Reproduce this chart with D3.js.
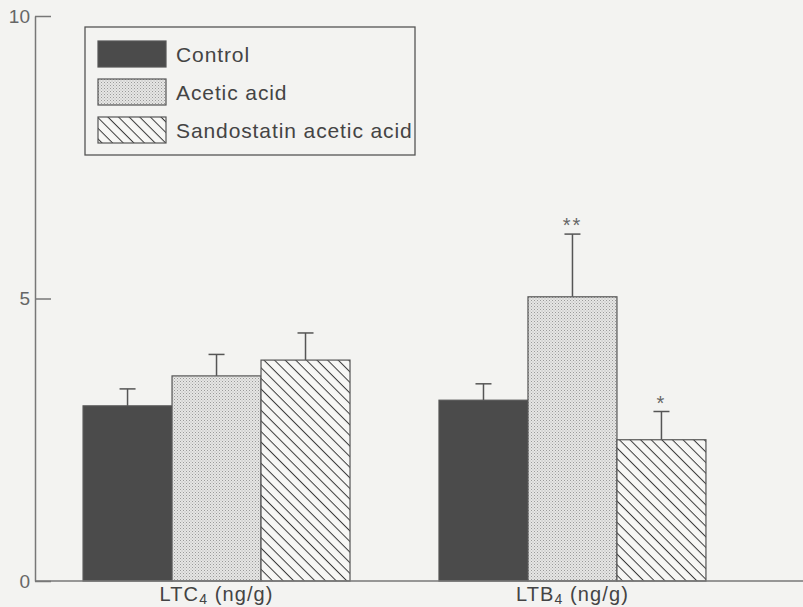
<!DOCTYPE html>
<html>
<head>
<meta charset="utf-8">
<script src="https://cdn.jsdelivr.net/npm/d3@7"></script>
<style>
  body { margin: 0; background: #f3f3f1; }
  svg { display: block; font-family: "Liberation Sans", Arial, sans-serif; }
</style>
</head>
<body>
<svg width="803" height="607"></svg>
<script>
// data
var groups = ["LTC", "LTB"];
var groupLabels = ["LTC", "LTB"];
var series = ["Control", "Acetic acid", "Sandostatin acetic acid"];
var ltcMeans = [3.10, 3.63, 3.91];
var ltcErr = [0.30, 0.38, 0.48];
var ltbMeans = [3.20, 5.03, 2.50];
var ltbErr = [0.29, 1.11, 0.50];
var ltcStars = ["", "", ""];
var ltbStars = ["", "**", "*"];
var yTicks = [0, 5, 10];

var rows = [];
groups.forEach(function(g, gi) {
    var m = gi === 0 ? ltcMeans : ltbMeans;
    var e = gi === 0 ? ltcErr : ltbErr;
    var s = gi === 0 ? ltcStars : ltbStars;
    series.forEach(function(k, i) {
        rows.push({group: g, key: k, idx: i, value: m[i], err: e[i], star: s[i]});
    });
});

var svg = d3.select('svg');

// patterns
var defs = svg.append('defs');
var dots = defs.append('pattern')
    .attr('id', 'dots').attr('patternUnits', 'userSpaceOnUse')
    .attr('width', 3).attr('height', 3);
dots.append('rect').attr('width', 3).attr('height', 3).attr('fill', '#e6e6e4');
dots.append('rect').attr('x', 0).attr('y', 0).attr('width', 1).attr('height', 1).attr('fill', '#9a9a9a');
dots.append('rect').attr('x', 1.5).attr('y', 1.5).attr('width', 1).attr('height', 1).attr('fill', '#b0b0b0');

// diagonal lines going down to the right
var hatch = defs.append('pattern')
    .attr('id', 'hatch').attr('patternUnits', 'userSpaceOnUse')
    .attr('width', 7.5).attr('height', 7.5)
    .attr('patternTransform', 'rotate(45)');
hatch.append('rect').attr('width', 7.5).attr('height', 7.5).attr('fill', '#f7f7f5');
hatch.append('line').attr('x1', 0).attr('y1', 0).attr('x2', 7.5).attr('y2', 0)
    .attr('stroke', '#3a3a3a').attr('stroke-width', 2);

var fills = ['#4b4b4b', 'url(#dots)', 'url(#hatch)'];

// scales
var yScale = d3.scaleLinear().domain([0, 10]).range([581, 16]);
var x0 = d3.scaleBand().domain(groups).range([35, 754])
    .paddingInner(0.25).paddingOuter(0.135);
var x1 = d3.scaleBand().domain(series).range([0, x0.bandwidth()]);

// bars
var bars = svg.append('g').selectAll('g')
    .data(rows).enter().append('g');

bars.append('line')
    .attr('x1', d => x0(d.group) + x1(d.key) + x1.bandwidth() / 2)
    .attr('x2', d => x0(d.group) + x1(d.key) + x1.bandwidth() / 2)
    .attr('y1', d => yScale(d.value))
    .attr('y2', d => yScale(d.value + d.err))
    .attr('stroke', '#555').attr('stroke-width', 1.5);
bars.append('line')
    .attr('x1', d => x0(d.group) + x1(d.key) + x1.bandwidth() / 2 - 8)
    .attr('x2', d => x0(d.group) + x1(d.key) + x1.bandwidth() / 2 + 8)
    .attr('y1', d => yScale(d.value + d.err))
    .attr('y2', d => yScale(d.value + d.err))
    .attr('stroke', '#555').attr('stroke-width', 1.5);

bars.append('rect')
    .attr('x', d => x0(d.group) + x1(d.key))
    .attr('y', d => yScale(d.value))
    .attr('width', x1.bandwidth())
    .attr('height', d => yScale(0) - yScale(d.value))
    .attr('fill', d => fills[d.idx])
    .attr('stroke', '#555').attr('stroke-width', 1.2);

bars.append('text')
    .text(d => d.star)
    .attr('x', d => x0(d.group) + x1(d.key) + x1.bandwidth() / 2)
    .attr('y', d => yScale(d.value + d.err) - 2)
    .attr('text-anchor', 'middle')
    .attr('font-size', 20).attr('letter-spacing', 2)
    .attr('fill', '#666');

// axes
var yAxis = d3.axisLeft(yScale).tickValues(yTicks).tickSize(-16).tickPadding(5).tickSizeOuter(0);
var yAxisGroup = svg.append('g').attr('transform', 'translate(35,0)').call(yAxis);
yAxisGroup.select('.domain').attr('stroke', '#777').attr('stroke-width', 1.5);
yAxisGroup.selectAll('.tick line').attr('stroke', '#777').attr('stroke-width', 1.5);
yAxisGroup.selectAll('.tick text').attr('font-size', 19).attr('fill', '#666')
    .attr('font-family', '"Liberation Sans", Arial, sans-serif');

svg.append('line')
    .attr('x1', 35).attr('x2', 803)
    .attr('y1', yScale(0)).attr('y2', yScale(0))
    .attr('stroke', '#777').attr('stroke-width', 1.5);

// group labels with subscript
var lab = svg.append('g').selectAll('text')
    .data(groups).enter().append('text')
    .attr('x', d => x0(d) + x0.bandwidth() / 2)
    .attr('y', 601)
    .attr('text-anchor', 'middle')
    .attr('font-size', 20).attr('fill', '#444').attr('letter-spacing', 1.1);
lab.append('tspan').text((d, i) => groupLabels[i]);
lab.append('tspan').text('4').attr('font-size', 14).attr('dy', 3);
lab.append('tspan').text(' (ng/g)').attr('dy', -3);

// legend
var legend = svg.append('g');
legend.append('rect')
    .attr('x', 85).attr('y', 27).attr('width', 330).attr('height', 128)
    .attr('fill', 'none').attr('stroke', '#555').attr('stroke-width', 1.3);
var items = legend.selectAll('g.item')
    .data(series).enter().append('g').attr('class', 'item')
    .attr('transform', (d, i) => 'translate(98,' + (41 + i * 38) + ')');
items.append('rect')
    .attr('width', 68).attr('height', 26)
    .attr('fill', (d, i) => fills[i])
    .attr('stroke', '#555').attr('stroke-width', 1.2);
items.append('text')
    .text(d => d)
    .attr('x', 78).attr('y', 21)
    .attr('font-size', 21).attr('letter-spacing', 0.9)
    .attr('fill', '#444');
</script>
</body>
</html>
